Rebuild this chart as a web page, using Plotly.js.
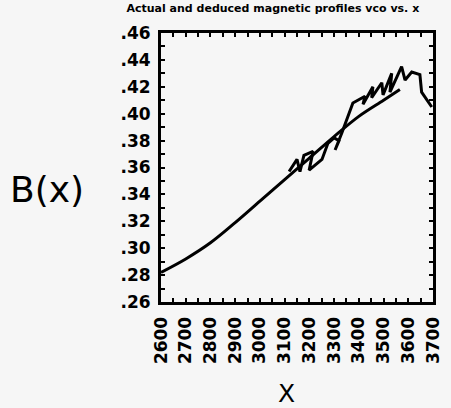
<!DOCTYPE html>
<html>
<head>
<meta charset="utf-8">
<script src="https://cdn.plot.ly/plotly-3.0.1.min.js"></script>
<style>
html,body{margin:0;padding:0;background:#f6f6f6;}
#chart{width:451px;height:408px;}
</style>
</head>
<body>
<div id="chart"></div>
<script>
const actualX = [2600, 2700, 2800, 2900, 3000, 3100, 3200, 3300, 3400, 3500, 3566];
const actualY = [0.282, 0.292, 0.304, 0.319, 0.335, 0.351, 0.367, 0.383, 0.398, 0.410, 0.418];

const deducedX = [3118, 3150, 3162, 3178, 3215, 3199, 3251, 3275, 3300, 3320, 3304, 3332, 3376, 3425, 3417, 3457, 3452, 3493, 3498, 3533, 3526, 3573, 3587, 3614, 3647, 3654, 3695];
const deducedY = [0.357, 0.366, 0.357, 0.369, 0.372, 0.358, 0.366, 0.378, 0.382, 0.380, 0.373, 0.386, 0.408, 0.413, 0.407, 0.420, 0.412, 0.423, 0.414, 0.430, 0.416, 0.435, 0.425, 0.431, 0.429, 0.416, 0.405];

const xTickVals = [2600, 2700, 2800, 2900, 3000, 3100, 3200, 3300, 3400, 3500, 3600, 3700];
const xTickText = ["2600", "2700", "2800", "2900", "3000", "3100", "3200", "3300", "3400", "3500", "3600", "3700"];
const yTickVals = [0.26, 0.28, 0.30, 0.32, 0.34, 0.36, 0.38, 0.40, 0.42, 0.44, 0.46];
const yTickText = [".26", ".28", ".30", ".32", ".34", ".36", ".38", ".40", ".42", ".44", ".46"];

const traces = [
  {x: actualX, y: actualY, mode: 'lines', line: {color: '#000', width: 3, shape: 'spline', smoothing: 1}, name: 'Actual'},
  {x: deducedX, y: deducedY, mode: 'lines', line: {color: '#000', width: 3}, name: 'Deduced'}
];

const layout = {
  width: 451, height: 408,
  paper_bgcolor: '#f6f6f6', plot_bgcolor: '#f6f6f6',
  showlegend: false,
  margin: {l: 161, r: 18, t: 33, b: 106},
  title: {text: 'Actual and deduced magnetic profiles vco vs. x',
          font: {family: 'DejaVu Sans', size: 11, color: '#000', weight: 'bold'},
          x: 0.605, xanchor: 'center', y: 0.99, yanchor: 'top'},
  xaxis: {
    range: [2600, 3700], tickvals: xTickVals, ticktext: xTickText, tickangle: -90,
    tickfont: {family: 'DejaVu Sans', size: 17, color: '#000', weight: 'bold'},
    showline: true, linewidth: 3, linecolor: '#000', mirror: 'ticks',
    ticks: 'inside', ticklen: 4, tickwidth: 2, tickcolor: '#000',
    minor: {dtick: 50, tick0: 2600, ticks: 'inside', ticklen: 4, tickwidth: 2, tickcolor: '#000'},
    showgrid: false, zeroline: false, ticklabelstandoff: 5
  },
  yaxis: {
    range: [0.26, 0.46], tickvals: yTickVals, ticktext: yTickText,
    tickfont: {family: 'DejaVu Sans', size: 17, color: '#000', weight: 'bold'},
    showline: true, linewidth: 3, linecolor: '#000', mirror: 'ticks',
    ticks: 'inside', ticklen: 4, tickwidth: 2, tickcolor: '#000',
    minor: {dtick: 0.01, tick0: 0.26, ticks: 'inside', ticklen: 4, tickwidth: 2, tickcolor: '#000'},
    showgrid: false, zeroline: false, ticklabelstandoff: 4
  },
  annotations: [
    {text: 'B(x)', xref: 'paper', yref: 'paper', x: -0.42, y: 0.42, xanchor: 'center', yanchor: 'middle',
     showarrow: false, font: {family: 'DejaVu Sans', size: 36, color: '#000'}},
    {text: 'X', xref: 'paper', yref: 'paper', x: 0.46, y: -0.34, xanchor: 'center', yanchor: 'middle',
     showarrow: false, font: {family: 'DejaVu Sans', size: 25, color: '#000'}}
  ]
};

Plotly.newPlot('chart', traces, layout, {displayModeBar: false, staticPlot: true});
</script>
</body>
</html>
